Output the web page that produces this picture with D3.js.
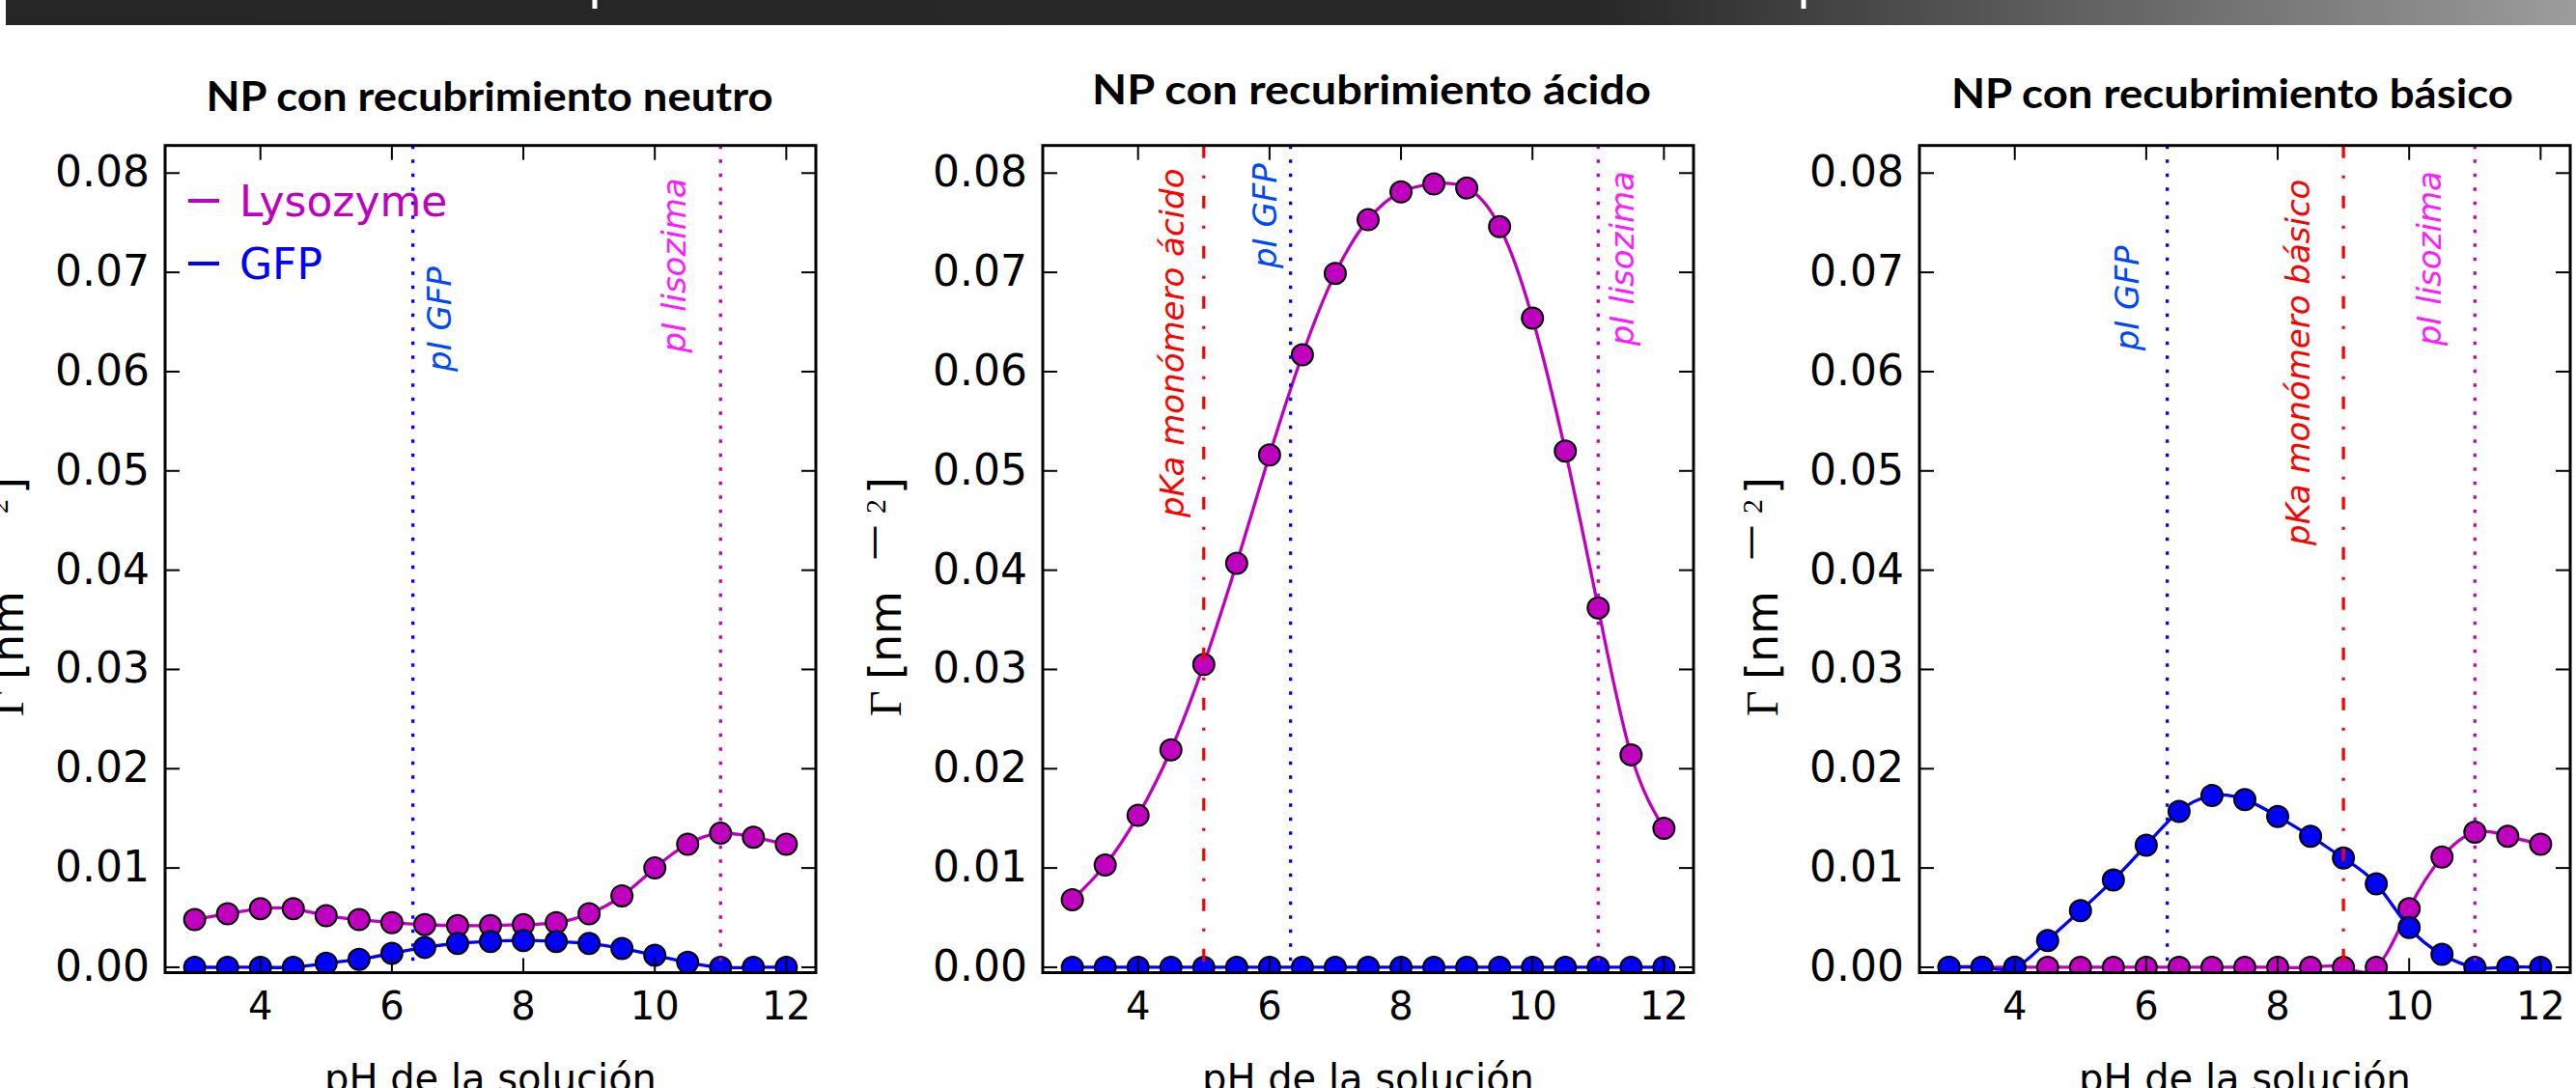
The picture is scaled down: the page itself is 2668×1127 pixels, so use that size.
<!DOCTYPE html>
<html>
<head>
<meta charset="utf-8">
<script src="https://cdn.jsdelivr.net/npm/d3@7"></script>
<style>
  body { margin: 0; background: #fff; }
  svg { display: block; }
</style>
</head>
<body>
<div id="chart"></div>
<script>
// pH values shared by every series
const pH = [3, 3.5, 4, 4.5, 5, 5.5, 6, 6.5, 7, 7.5, 8, 8.5, 9, 9.5, 10, 10.5, 11, 11.5, 12];

// adsorbed amount (nm^-2)
const lysoNeutro = [0.0048, 0.0054, 0.0059, 0.0059, 0.0052, 0.0048, 0.0045, 0.0043, 0.0042, 0.0042, 0.0043, 0.0045, 0.0054, 0.0072, 0.0100, 0.0124, 0.0135, 0.0131, 0.0124];
const gfpNeutro  = [0, 0, 0, 0, 0.0004, 0.0008, 0.0014, 0.0020, 0.0024, 0.0026, 0.0027, 0.0026, 0.0024, 0.0019, 0.0012, 0.0005, 0, 0, 0];
const lysoAcido  = [0.0068, 0.0103, 0.0153, 0.0219, 0.0305, 0.0407, 0.0516, 0.0617, 0.0699, 0.0753, 0.0781, 0.0789, 0.0785, 0.0746, 0.0654, 0.0520, 0.0362, 0.0214, 0.0140];
const gfpAcido   = [0, 0, 0, 0, 0, 0, 0, 0, 0, 0, 0, 0, 0, 0, 0, 0, 0, 0, 0];
const lysoBasico = [0, 0, 0, 0, 0, 0, 0, 0, 0, 0, 0, 0, 0, 0, 0.0059, 0.0111, 0.0136, 0.0132, 0.0124];
const gfpBasico  = [0, 0, 0, 0.0027, 0.0057, 0.0088, 0.0123, 0.0157, 0.0173, 0.0169, 0.0152, 0.0132, 0.0110, 0.0084, 0.0040, 0.0013, 0, 0, 0];

const titles = ["NP con recubrimiento neutro", "NP con recubrimiento ácido", "NP con recubrimiento básico"];
const seriesNames = ["Lysozyme", "GFP"];
const xTicks = [4, 6, 8, 10, 12];
const yTicks = [0, 0.01, 0.02, 0.03, 0.04, 0.05, 0.06, 0.07, 0.08];

// reference pH lines: where they sit and where their label starts (data units)
const marksNeutro = [
  { kind: "gfp",  at: 6.32, label: "pI GFP",      textX: 6.9,   textY: 0.0600 },
  { kind: "lyso", at: 11,   label: "pI lisozima", textX: 10.46, textY: 0.0619 }
];
const marksAcido = [
  { kind: "pka",  at: 5,    label: "pKa monómero ácido", textX: 4.70,  textY: 0.0453 },
  { kind: "gfp",  at: 6.32, label: "pI GFP",             textX: 6.10,  textY: 0.0704 },
  { kind: "lyso", at: 11,   label: "pI lisozima",        textX: 11.54, textY: 0.0626 }
];
const marksBasico = [
  { kind: "gfp",  at: 6.32, label: "pI GFP",              textX: 5.89,  textY: 0.0621 },
  { kind: "pka",  at: 9,    label: "pKa monómero básico", textX: 8.48,  textY: 0.0425 },
  { kind: "lyso", at: 11,   label: "pI lisozima",         textX: 10.48, textY: 0.0626 }
];

const panels = [
  { title: titles[0], lyso: lysoNeutro, gfp: gfpNeutro, marks: marksNeutro },
  { title: titles[1], lyso: lysoAcido,  gfp: gfpAcido,  marks: marksAcido },
  { title: titles[2], lyso: lysoBasico, gfp: gfpBasico, marks: marksBasico }
];

// layout
const W = 2668, H = 1127;
const plotLeft = [171, 1080, 1988];
const plotW = 674;
const plotTop = 150.7, plotBottom = 1007.5;
const titleBase = [115, 108, 112];
const titleShift = [-1, 3.5, -13];
const titleLen = [587, 579, 582];

const colors = { lyso: "#bf00bf", gfp: "#0000ff" };
const markStyle = {
  gfp:  { stroke: "#0000ff", dash: "3.5,11",     text: "#0047ff" },
  lyso: { stroke: "#bf00bf", dash: "3.5,11",     text: "#ff1aff" },
  pka:  { stroke: "#ff0000", dash: "13,18,3,18", text: "#ff0000" }
};

const svg = d3.select("#chart").append("svg")
  .attr("width", W)
  .attr("height", H)
  .style("font-family", "'DejaVu Sans', sans-serif");

// dark banner on top (part of the slide)
const grad = svg.append("defs").append("linearGradient")
  .attr("id", "bar-grad").attr("x1", "0%").attr("x2", "100%");
grad.append("stop").attr("offset", "0%").attr("stop-color", "#262626");
grad.append("stop").attr("offset", "62%").attr("stop-color", "#282828");
grad.append("stop").attr("offset", "100%").attr("stop-color", "#9c9c9c");
svg.append("rect").attr("x", 6).attr("y", 0).attr("width", W - 6).attr("height", 26)
  .attr("fill", "url(#bar-grad)");
[616, 1868].forEach(x => {
  svg.append("rect").attr("x", x - 2.5).attr("y", 0).attr("width", 5).attr("height", 9).attr("fill", "#fff");
});

panels.forEach((p, i) => {
  const left = plotLeft[i];
  const x = d3.scaleLinear().domain([2.55, 12.45]).range([left, left + plotW]);
  const y = d3.scaleLinear().domain([-0.00054, 0.08278]).range([plotBottom, plotTop]);
  const g = svg.append("g");

  const clipId = "clip" + i;
  svg.select("defs").append("clipPath").attr("id", clipId)
    .append("rect")
      .attr("x", left).attr("y", plotTop)
      .attr("width", plotW).attr("height", plotBottom - plotTop);

  // title
  g.append("text")
    .attr("x", left + plotW / 2 + titleShift[i])
    .attr("y", titleBase[i])
    .attr("text-anchor", "middle")
    .attr("textLength", titleLen[i])
    .attr("lengthAdjust", "spacingAndGlyphs")
    .style("font-family", "Lato, 'Open Sans', sans-serif")
    .style("font-weight", "bold")
    .style("font-size", "42px")
    .text(p.title);

  const line = d3.line()
    .x((d, k) => x(pH[k]))
    .y(d => y(d))
    .curve(d3.curveNatural);

  const data = g.append("g").attr("clip-path", `url(#${clipId})`);
  [["lyso", p.lyso], ["gfp", p.gfp]].forEach(([key, vals]) => {
    data.append("path")
      .attr("d", line(vals))
      .attr("fill", "none")
      .attr("stroke", colors[key])
      .attr("stroke-width", 3.3);
    data.append("g")
      .selectAll("circle")
      .data(vals)
      .join("circle")
        .attr("cx", (d, k) => x(pH[k]))
        .attr("cy", d => y(d))
        .attr("r", 11)
        .attr("fill", colors[key])
        .attr("stroke", "#000")
        .attr("stroke-width", 2);
  });

  // reference lines and their rotated labels
  p.marks.forEach(m => {
    const s = markStyle[m.kind];
    g.append("line")
      .attr("x1", x(m.at)).attr("x2", x(m.at))
      .attr("y1", plotTop).attr("y2", plotBottom)
      .attr("stroke", s.stroke)
      .attr("stroke-width", 3.3)
      .attr("stroke-dasharray", s.dash);
    g.append("text")
      .attr("transform", `translate(${x(m.textX)},${y(m.textY)}) rotate(-90)`)
      .attr("fill", s.text)
      .style("font-style", "italic")
      .style("font-size", "34px")
      .text(m.label);
  });

  // frame
  g.append("rect")
    .attr("x", left).attr("y", plotTop)
    .attr("width", plotW).attr("height", plotBottom - plotTop)
    .attr("fill", "none").attr("stroke", "#000").attr("stroke-width", 3);

  const tick = 15;
  xTicks.forEach(t => {
    g.append("line").attr("x1", x(t)).attr("x2", x(t)).attr("y1", plotBottom).attr("y2", plotBottom - tick)
      .attr("stroke", "#000").attr("stroke-width", 2);
    g.append("line").attr("x1", x(t)).attr("x2", x(t)).attr("y1", plotTop).attr("y2", plotTop + tick)
      .attr("stroke", "#000").attr("stroke-width", 2);
    g.append("text")
      .attr("x", x(t)).attr("y", 1056)
      .attr("text-anchor", "middle")
      .style("font-size", "40px")
      .text(t);
  });
  yTicks.forEach(t => {
    g.append("line").attr("x1", left).attr("x2", left + tick).attr("y1", y(t)).attr("y2", y(t))
      .attr("stroke", "#000").attr("stroke-width", 2);
    g.append("line").attr("x1", left + plotW).attr("x2", left + plotW - tick).attr("y1", y(t)).attr("y2", y(t))
      .attr("stroke", "#000").attr("stroke-width", 2);
    g.append("text")
      .attr("x", left - 16).attr("y", y(t) + 14)
      .attr("text-anchor", "end")
      .style("font-size", "44px")
      .text(d3.format(".2f")(t));
  });

  // axis labels
  g.append("text")
    .attr("x", left + plotW / 2).attr("y", 1131)
    .attr("text-anchor", "middle")
    .style("font-size", "40px")
    .text("pH de la solución");

  // Γ [nm^-2], written bottom to top; u runs along the text (u = -screen y)
  const yl = g.append("text")
    .attr("transform", `translate(${left - 147},0) rotate(-90)`)
    .style("font-size", "46px");
  yl.append("tspan").attr("x", -742)
    .style("font-family", "'Liberation Serif', serif").text("Γ");
  yl.append("tspan").attr("x", -704).text("[nm");
  yl.append("tspan").attr("x", -584).attr("dy", -16)
    .attr("textLength", 44).attr("lengthAdjust", "spacingAndGlyphs")
    .style("font-size", "34px").text("−");
  yl.append("tspan").attr("x", -532)
    .style("font-family", "'Liberation Serif', serif").style("font-size", "30px").text("2");
  yl.append("tspan").attr("x", -512).attr("dy", 16).text("]");

  // legend only in the first panel
  if (i === 0) {
    seriesNames.forEach((name, k) => {
      const key = k === 0 ? "lyso" : "gfp";
      const cy = 208 + k * 65;
      g.append("line").attr("x1", 195).attr("x2", 227).attr("y1", cy).attr("y2", cy)
        .attr("stroke", colors[key]).attr("stroke-width", 4);
      g.append("text").attr("x", 248).attr("y", cy + 16)
        .attr("fill", colors[key])
        .style("font-size", "44px")
        .text(name);
    });
  }
});
</script>
</body>
</html>
